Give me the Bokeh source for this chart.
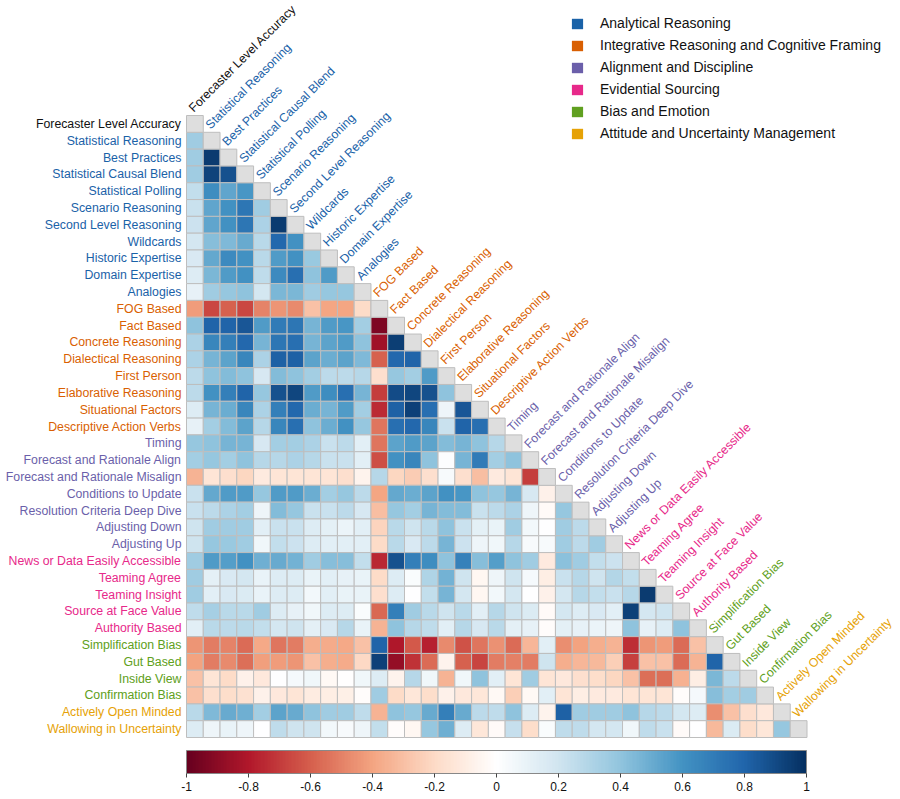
import math
from bokeh.plotting import figure
from bokeh.models import (ColumnDataSource, LinearColorMapper, ColorBar, FixedTicker,
                          CustomJSTickFormatter, Range1d, Legend, LegendItem)
from bokeh.transform import transform
from bokeh.core.properties import value
from bokeh.embed import file_html
from bokeh.resources import INLINE

# ---------------- data ----------------
variables = [
    "Forecaster Level Accuracy", "Statistical Reasoning", "Best Practices",
    "Statistical Causal Blend", "Statistical Polling", "Scenario Reasoning",
    "Second Level Reasoning", "Wildcards", "Historic Expertise", "Domain Expertise",
    "Analogies", "FOG Based", "Fact Based", "Concrete Reasoning", "Dialectical Reasoning",
    "First Person", "Elaborative Reasoning", "Situational Factors",
    "Descriptive Action Verbs", "Timing", "Forecast and Rationale Align",
    "Forecast and Rationale Misalign", "Conditions to Update",
    "Resolution Criteria Deep Dive", "Adjusting Down", "Adjusting Up",
    "News or Data Easily Accessible", "Teaming Agree", "Teaming Insight",
    "Source at Face Value", "Authority Based", "Simplification Bias", "Gut Based",
    "Inside View", "Confirmation Bias", "Actively Open Minded",
    "Wallowing in Uncertainty",
]
# group index for each variable (-1 = outcome, black)
variable_group = [-1] + [0] * 10 + [1] * 8 + [2] * 7 + [3] * 5 + [4] * 4 + [5] * 2

group_names = [
    "Analytical Reasoning", "Integrative Reasoning and Cognitive Framing",
    "Alignment and Discipline", "Evidential Sourcing", "Bias and Emotion",
    "Attitude and Uncertainty Management",
]
group_colors = ["#1A62A8", "#D95F02", "#6B5FAA", "#E7298A", "#60A020", "#E6A206"]

# lower-triangle correlations, one list per row (row k holds columns 1..k-1)
row02 = [0.35]
row03 = [0.35, 0.95]
row04 = [0.35, 0.92, 0.88]
row05 = [0.24, 0.62, 0.52, 0.58]
row06 = [0.22, 0.52, 0.6, 0.72, 0.35]
row07 = [0.21, 0.52, 0.6, 0.72, 0.31, 0.95]
row08 = [0.19, 0.42, 0.44, 0.5, 0.27, 0.78, 0.6]
row09 = [0.17, 0.51, 0.63, 0.6, 0.27, 0.56, 0.6, 0.37]
row10 = [0.15, 0.45, 0.56, 0.6, 0.25, 0.63, 0.75, 0.4, 0.56]
row11 = [0.1, 0.35, 0.38, 0.4, 0.19, 0.45, 0.45, 0.35, 0.38, 0.38]
row12 = [-0.43, -0.66, -0.6, -0.66, -0.5, -0.45, -0.48, -0.3, -0.4, -0.4, -0.2]
row13 = [0.4, 0.8, 0.8, 0.85, 0.56, 0.7, 0.72, 0.46, 0.56, 0.58, 0.34, -0.93]
row14 = [0.31, 0.65, 0.68, 0.78, 0.46, 0.72, 0.75, 0.46, 0.53, 0.57, 0.4, -0.85, 0.94]
row15 = [0.31, 0.46, 0.53, 0.65, 0.31, 0.82, 0.82, 0.53, 0.49, 0.53, 0.44, -0.6, 0.78, 0.8]
row16 = [0.26, 0.4, 0.43, 0.4, 0.18, 0.43, 0.4, 0.34, 0.26, 0.26, 0.28, -0.18, 0.38, 0.34, 0.56]
row17 = [0.26, 0.6, 0.68, 0.8, 0.38, 0.87, 0.91, 0.56, 0.62, 0.75, 0.46, -0.7, 0.89, 0.91,
         0.88, 0.4]
row18 = [0.15, 0.46, 0.49, 0.65, 0.31, 0.68, 0.78, 0.49, 0.46, 0.56, 0.34, -0.75, 0.82, 0.93,
         0.75, 0.07, 0.85]
row19 = [0.1, 0.34, 0.43, 0.53, 0.28, 0.65, 0.75, 0.4, 0.49, 0.6, 0.38, -0.53, 0.75, 0.78,
         0.65, 0.22, 0.8, 0.75]
row20 = [0.38, 0.4, 0.46, 0.46, 0.18, 0.34, 0.34, 0.31, 0.22, 0.26, 0.12, -0.53, 0.53, 0.56,
         0.53, 0.43, 0.46, 0.4, 0.28]
row21 = [0.34, 0.38, 0.34, 0.4, 0.28, 0.28, 0.31, 0.28, 0.22, 0.22, 0.12, -0.65, 0.6, 0.65,
         0.4, 0.01, 0.46, 0.7, 0.34, 0.4]
row22 = [-0.34, -0.15, -0.18, -0.22, -0.12, -0.15, -0.15, -0.15, -0.15, -0.18, -0.06, 0.28,
         -0.22, -0.26, -0.18, 0.03, -0.18, -0.31, -0.12, -0.15, -0.7]
row23 = [0.22, 0.51, 0.56, 0.56, 0.38, 0.56, 0.56, 0.49, 0.34, 0.38, 0.26, -0.4, 0.51, 0.49,
         0.53, 0.6, 0.58, 0.4, 0.38, 0.46, 0.18, -0.07]
row24 = [0.22, 0.26, 0.31, 0.34, 0.07, 0.43, 0.38, 0.22, 0.22, 0.26, 0.18, -0.31, 0.38, 0.34,
         0.46, 0.43, 0.43, 0.22, 0.26, 0.31, 0.07, -0.03, 0.38]
row25 = [0.2, 0.36, 0.35, 0.35, 0.13, 0.22, 0.22, 0.15, 0.11, 0.08, 0.13, -0.23, 0.27, 0.2,
         0.27, 0.4, 0.22, 0.11, 0.09, 0.35, 0.05, 0.0, 0.36, 0.26]
row26 = [0.2, 0.38, 0.37, 0.35, 0.06, 0.24, 0.21, 0.15, 0.12, 0.12, 0.12, -0.2, 0.27, 0.17,
         0.26, 0.46, 0.21, 0.07, 0.06, 0.28, 0.03, 0.03, 0.35, 0.26, 0.35]
row27 = [0.35, 0.56, 0.55, 0.6, 0.48, 0.5, 0.47, 0.35, 0.42, 0.42, 0.24, -0.76, 0.88, 0.68,
         0.62, 0.4, 0.67, 0.42, 0.55, 0.4, 0.36, -0.12, 0.41, 0.36, 0.24, 0.21]
row28 = [0.35, 0.11, 0.17, 0.19, 0.09, 0.15, 0.15, 0.09, 0.12, 0.1, 0.09, -0.2, 0.15, 0.02,
         0.3, 0.47, 0.2, -0.05, 0.07, 0.2, 0.04, -0.1, 0.22, 0.28, 0.2, 0.29, 0.24]
row29 = [0.35, 0.12, 0.17, 0.16, 0.09, 0.14, 0.15, 0.05, 0.12, 0.09, 0.09, -0.18, 0.15, 0.0,
         0.24, 0.46, 0.19, -0.05, 0.05, 0.19, 0.0, -0.08, 0.19, 0.28, 0.24, 0.22, 0.28, 0.95]
row30 = [0.25, 0.33, 0.27, 0.27, 0.36, 0.15, 0.1, 0.06, 0.14, 0.14, 0.02, -0.58, 0.68, 0.35,
         0.27, 0.2, 0.27, 0.12, 0.28, 0.2, 0.16, -0.03, 0.19, 0.15, 0.17, 0.13, 0.93, 0.19, 0.2]
row31 = [0.13, 0.27, 0.26, 0.27, 0.24, 0.19, 0.2, 0.11, 0.17, 0.28, 0.09, -0.34, 0.4, 0.28,
         0.25, 0.13, 0.28, 0.18, 0.27, 0.11, 0.1, -0.02, 0.11, 0.1, 0.08, 0.07, 0.4, 0.1, 0.15,
         0.4]
row32 = [-0.45, -0.52, -0.5, -0.56, -0.39, -0.53, -0.52, -0.37, -0.38, -0.39, -0.3, 0.8, -0.8,
         -0.62, -0.77, -0.48, -0.64, -0.53, -0.46, -0.56, -0.33, 0.12, -0.47, -0.41, -0.37,
         -0.35, -0.74, -0.45, -0.43, -0.57, -0.3]
row33 = [-0.41, -0.52, -0.48, -0.55, -0.42, -0.43, -0.45, -0.3, -0.37, -0.38, -0.21, 0.93,
         -0.88, -0.73, -0.56, -0.06, -0.6, -0.67, -0.52, -0.51, -0.52, 0.2, -0.37, -0.33,
         -0.32, -0.25, -0.68, -0.3, -0.3, -0.57, -0.34, 0.8]
row34 = [-0.3, -0.15, -0.2, -0.07, -0.13, 0.0, 0.04, 0.06, -0.04, -0.01, 0.06, 0.15, -0.06,
         0.28, 0.06, -0.34, 0.06, 0.4, 0.12, -0.15, 0.36, -0.15, -0.13, -0.18, -0.19, -0.22,
         -0.3, -0.55, -0.55, -0.36, -0.1, 0.45, 0.26]
row35 = [-0.3, -0.18, -0.19, -0.17, -0.07, -0.13, -0.15, -0.11, -0.1, -0.09, -0.02, 0.35, -0.2,
         -0.14, -0.19, -0.07, -0.13, -0.14, -0.04, -0.25, -0.04, 0.12, -0.15, -0.1, -0.12,
         -0.12, -0.15, -0.15, -0.15, -0.02, 0.04, 0.42, 0.34, 0.35]
row36 = [0.27, 0.44, 0.5, 0.48, 0.34, 0.53, 0.5, 0.4, 0.35, 0.35, 0.25, -0.35, 0.4, 0.38, 0.5,
         0.68, 0.5, 0.26, 0.25, 0.4, 0.15, -0.06, 0.82, 0.36, 0.36, 0.35, 0.4, 0.28, 0.26, 0.19,
         0.15, -0.47, -0.3, -0.18, -0.13]
row37 = [0.15, 0.07, 0.09, 0.07, 0.0, 0.25, 0.2, 0.2, 0.05, 0.03, 0.07, 0.24, -0.02, -0.05,
         0.38, 0.48, 0.15, -0.14, -0.03, 0.23, -0.19, 0.02, 0.25, 0.25, 0.19, 0.19, 0.06, 0.25,
         0.22, -0.03, 0.0, -0.32, 0.16, -0.19, -0.14, 0.38]

colorbar_ticks = [-1, -0.8, -0.6, -0.4, -0.2, 0, 0.2, 0.4, 0.6, 0.8, 1]
rdbu_anchors = ["#67001F", "#B2182B", "#D6604D", "#F4A582", "#FDDBC7", "#FFFFFF",
                "#D1E5F0", "#92C5DE", "#4393C3", "#2166AC", "#053061"]

lower_rows = [[], row02, row03, row04, row05, row06, row07, row08, row09, row10, row11,
              row12, row13, row14, row15, row16, row17, row18, row19, row20, row21, row22,
              row23, row24, row25, row26, row27, row28, row29, row30, row31, row32, row33,
              row34, row35, row36, row37]

# ---------------- palette ----------------
def hex2rgb(h):
    h = h.lstrip("#")
    return [int(h[k:k + 2], 16) for k in (0, 2, 4)]

def build_palette(anchors, n):
    rgb = [hex2rgb(a) for a in anchors]
    out = []
    for k in range(n):
        t = k / (n - 1) * (len(rgb) - 1)
        a = min(int(math.floor(t)), len(rgb) - 2)
        f = t - a
        c = [round(rgb[a][m] + (rgb[a + 1][m] - rgb[a][m]) * f) for m in range(3)]
        out.append("#%02x%02x%02x" % tuple(c))
    return out

palette = build_palette(rdbu_anchors, 200)
mapper = LinearColorMapper(palette=palette, low=-1, high=1)

# ---------------- geometry (cell units) ----------------
N = len(variables)
W, H = 900, 799
GX0, GX1, GY0, GY1 = 186, 806.5, 115, 737
CW = (GX1 - GX0) / N
CH = (GY1 - GY0) / N

p = figure(width=W, height=H, output_backend="svg", toolbar_location=None,
           x_range=Range1d(-GX0 / CW, (W - GX0) / CW),
           y_range=Range1d(-(H - GY0) / CH, GY0 / CH),
           x_axis_type=None, y_axis_type=None, min_border=0,
           outline_line_color=None, background_fill_color="white")

FONT_NAME = "Liberation Sans"
FONT = value(FONT_NAME)
LABEL_SIZE = "12.3px"

# correlation cells
cx, cy, cr = [], [], []
for i, vals in enumerate(lower_rows):
    for j, r in enumerate(vals):
        cx.append(j + 0.5)
        cy.append(-(i + 0.5))
        cr.append(r)
cells = ColumnDataSource(dict(x=cx, y=cy, r=cr))
p.rect(x="x", y="y", width=1, height=1, source=cells,
       fill_color=transform("r", mapper), line_color="#BEBEBE", line_width=1)

# diagonal cells
diag = ColumnDataSource(dict(x=[i + 0.5 for i in range(N)], y=[-(i + 0.5) for i in range(N)]))
p.rect(x="x", y="y", width=1, height=1, source=diag,
       fill_color="#DEDEDE", line_color="#BEBEBE", line_width=1)

label_colors = ["#111111" if g < 0 else group_colors[g] for g in variable_group]

# row labels (left)
rl = ColumnDataSource(dict(x=[-5 / CW] * N, y=[-(i + 0.5) for i in range(N)],
                           t=variables, c=label_colors))
p.text(x="x", y="y", text="t", source=rl, text_color="c", text_align="right",
       text_baseline="middle", text_font=FONT, text_font_size=LABEL_SIZE)

# column labels (diagonal, rotated)
tl = ColumnDataSource(dict(x=[i + 4.5 / CW for i in range(N)],
                           y=[-i + 5.5 / CH for i in range(N)],
                           t=variables, c=label_colors))
p.text(x="x", y="y", text="t", source=tl, text_color="c", text_align="left",
       text_baseline="middle", angle=math.pi / 4, text_font=FONT, text_font_size=LABEL_SIZE)

# legend (renderers hold one off-screen NaN point so that the swatches are drawn)
items = []
for name, col in zip(group_names, group_colors):
    src = ColumnDataSource(dict(x=[float("nan")], y=[float("nan")]))
    rr = p.rect(x="x", y="y", width=1, height=1, source=src, fill_color=col, line_color=None)
    items.append(LegendItem(label=name, renderers=[rr]))
legend = Legend(items=items, location=(570, H - 143), orientation="vertical",
                glyph_width=14, glyph_height=13, label_standoff=16, label_height=20,
                spacing=2, padding=0, margin=0, border_line_alpha=0,
                background_fill_alpha=0, label_text_font=FONT_NAME,
                label_text_font_size="14px", label_text_color="#111111")
p.add_layout(legend)

# colour bar
cb = ColorBar(color_mapper=mapper, orientation="horizontal", location=(GX0, 6),
              width=int(round(GX1 - GX0)), height=23, padding=0, margin=0,
              ticker=FixedTicker(ticks=colorbar_ticks),
              formatter=CustomJSTickFormatter(code="return (Math.round(tick*10)/10).toString();"),
              major_label_text_font=FONT_NAME, major_label_text_font_size="12px",
              major_label_text_color="#111111", label_standoff=4,
              major_tick_out=4, major_tick_in=0, major_tick_line_color="#444444",
              minor_tick_line_color=None, bar_line_color="#888888",
              background_fill_alpha=0, border_line_alpha=0)
p.add_layout(cb)

open("out.html", "w").write(file_html(p, INLINE))
